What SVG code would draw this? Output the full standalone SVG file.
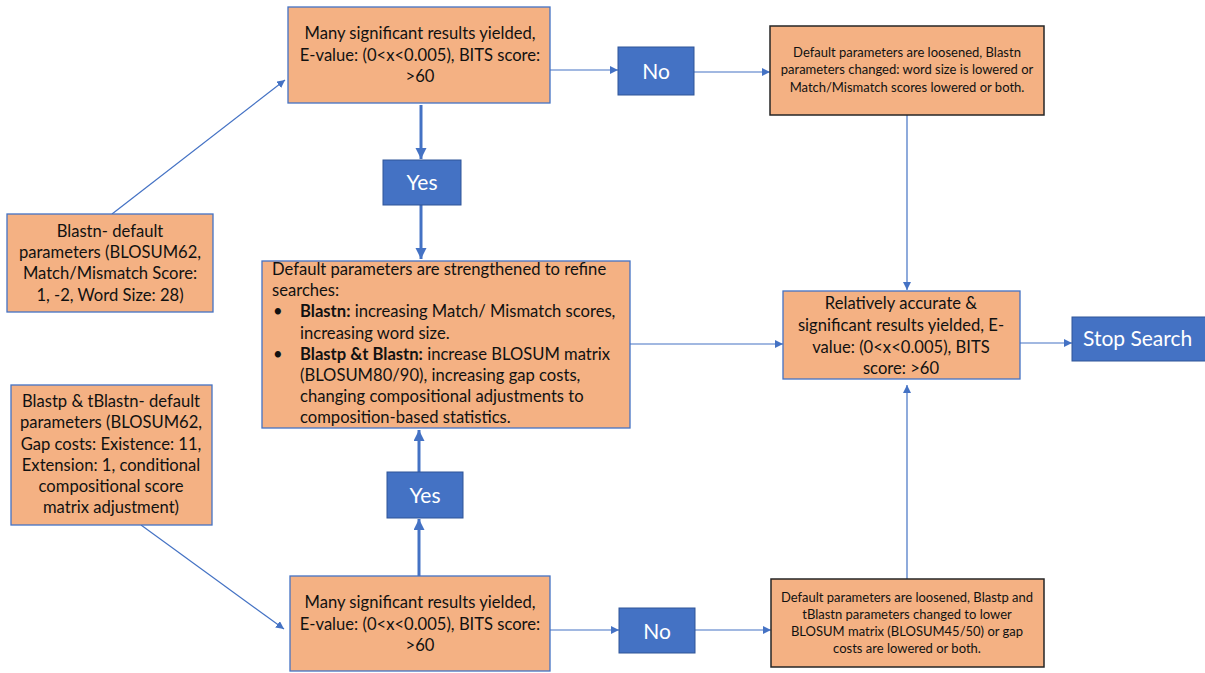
<svg xmlns="http://www.w3.org/2000/svg" width="1205" height="673" viewBox="0 0 1205 673">
<style>
.box{fill:#F4B183;stroke:#4472C4;stroke-width:1.3}
.dbox{fill:#F4B183;stroke:#262626;stroke-width:1.5}
.blue{fill:#4472C4;stroke:#2F5597;stroke-width:1}
.t{font-family:"Lato","Liberation Sans",sans-serif;font-size:16.6px;fill:#111}
.s{font-family:"Lato","Liberation Sans",sans-serif;font-size:13px;fill:#111}
.w{font-family:"Lato","Liberation Sans",sans-serif;font-size:21px;fill:#fff}
.c{text-anchor:middle}
.ln{stroke:#4472C4;stroke-width:1.2;fill:none}
.thick{stroke:#4472C4;stroke-width:3;fill:none}
</style>
<defs>
<marker id="a" markerUnits="userSpaceOnUse" markerWidth="9" markerHeight="9" refX="8" refY="4" orient="auto"><path d="M0,0 L8,4 L0,8 Z" fill="#4472C4"/></marker>
<marker id="b" markerUnits="userSpaceOnUse" markerWidth="12" markerHeight="12" refX="11" refY="5.5" orient="auto"><path d="M0,0 L11,5.5 L0,11 Z" fill="#4472C4"/></marker>
</defs>
<g id="connectors">
<line class="ln" x1="112" y1="214" x2="285" y2="80" marker-end="url(#a)"/>
<line class="ln" x1="550" y1="70" x2="618" y2="70" marker-end="url(#a)"/>
<line class="ln" x1="694" y1="72" x2="770" y2="72" marker-end="url(#a)"/>
<line class="ln" x1="907" y1="115" x2="907" y2="290" marker-end="url(#a)"/>
<line class="thick" x1="421" y1="105" x2="421" y2="159" marker-end="url(#b)"/>
<line class="thick" x1="421" y1="205" x2="421" y2="259" marker-end="url(#b)"/>
<line class="ln" x1="630" y1="344" x2="783" y2="344" marker-end="url(#a)"/>
<line class="ln" x1="1016" y1="343" x2="1072" y2="343" marker-end="url(#a)"/>
<line class="ln" x1="141" y1="525" x2="284" y2="629" marker-end="url(#a)"/>
<line class="ln" x1="550" y1="630" x2="619" y2="630" marker-end="url(#a)"/>
<line class="ln" x1="695" y1="630" x2="771" y2="630" marker-end="url(#a)"/>
<line class="ln" x1="907" y1="579" x2="907" y2="385" marker-end="url(#a)"/>
<line class="thick" x1="419" y1="576" x2="419" y2="519" marker-end="url(#b)"/>
<line class="thick" x1="419" y1="472" x2="419" y2="430" marker-end="url(#b)"/>
</g>
<g id="top">
<rect class="box" x="288" y="7" width="262" height="96"/>
<text class="t c" x="420" y="39">Many significant results yielded,</text>
<text class="t c" x="420" y="61">E-value: (0&lt;x&lt;0.005), BITS score:</text>
<text class="t c" x="420" y="82">&gt;60</text>
</g>
<g id="no-top">
<rect class="blue" x="618" y="47" width="76" height="48"/>
<text class="w c" x="656" y="79">No</text>
</g>
<g id="loosen-n">
<rect class="dbox" x="770" y="26" width="274" height="89"/>
<text class="s c" x="907" y="57">Default parameters are loosened, Blastn</text>
<text class="s c" x="907" y="74">parameters changed: word size is lowered or</text>
<text class="s c" x="907" y="92">Match/Mismatch scores lowered or both.</text>
</g>
<g id="yes-top">
<rect class="blue" x="383" y="160" width="78" height="45"/>
<text class="w c" x="422" y="190">Yes</text>
</g>
<g id="blastn">
<rect class="box" x="7" y="214" width="206" height="98"/>
<text class="t c" x="110" y="237">Blastn- default</text>
<text class="t c" x="110" y="258">parameters (BLOSUM62,</text>
<text class="t c" x="110" y="279">Match/Mismatch Score:</text>
<text class="t c" x="110" y="301">1, -2, Word Size: 28)</text>
</g>
<g id="strengthen">
<rect class="box" x="262" y="261" width="368" height="167"/>
<text class="t" x="272" y="275">Default parameters are strengthened to refine</text>
<text class="t" x="272" y="296">searches:</text>
<text class="t" x="273" y="317">•</text>
<text class="t" x="300" y="317"><tspan font-weight="bold">Blastn:</tspan> increasing Match/ Mismatch scores,</text>
<text class="t" x="300" y="339">increasing word size.</text>
<text class="t" x="273" y="360">•</text>
<text class="t" x="300" y="360"><tspan font-weight="bold">Blastp &amp;t Blastn:</tspan> increase BLOSUM matrix</text>
<text class="t" x="300" y="381">(BLOSUM80/90), increasing gap costs,</text>
<text class="t" x="300" y="402">changing compositional adjustments to</text>
<text class="t" x="300" y="423">composition-based statistics.</text>
</g>
<g id="relatively">
<rect class="box" x="783" y="291" width="237" height="88"/>
<text class="t c" x="901" y="309">Relatively accurate &amp;</text>
<text class="t c" x="901" y="331">significant results yielded, E-</text>
<text class="t c" x="901" y="353">value: (0&lt;x&lt;0.005), BITS</text>
<text class="t c" x="901" y="374">score: &gt;60</text>
</g>
<g id="stop">
<rect class="blue" x="1072" y="317" width="140" height="44"/>
<text class="w" x="1083" y="346">Stop Search</text>
</g>
<g id="blastp">
<rect class="box" x="11" y="385" width="201" height="140"/>
<text class="t c" x="111" y="407">Blastp &amp; tBlastn- default</text>
<text class="t c" x="111" y="428">parameters (BLOSUM62,</text>
<text class="t c" x="111" y="450">Gap costs: Existence: 11,</text>
<text class="t c" x="111" y="471">Extension: 1, conditional</text>
<text class="t c" x="111" y="492">compositional score</text>
<text class="t c" x="111" y="513">matrix adjustment)</text>
</g>
<g id="yes-bottom">
<rect class="blue" x="387" y="472" width="76" height="46"/>
<text class="w c" x="425" y="503">Yes</text>
</g>
<g id="bottom">
<rect class="box" x="290" y="576" width="260" height="95"/>
<text class="t c" x="420" y="608">Many significant results yielded,</text>
<text class="t c" x="420" y="630">E-value: (0&lt;x&lt;0.005), BITS score:</text>
<text class="t c" x="420" y="651">&gt;60</text>
</g>
<g id="no-bottom">
<rect class="blue" x="619" y="608" width="76" height="45"/>
<text class="w c" x="657" y="639">No</text>
</g>
<g id="loosen-p">
<rect class="dbox" x="771" y="579" width="273" height="88"/>
<text class="s c" x="907" y="602">Default parameters are loosened, Blastp and</text>
<text class="s c" x="907" y="619">tBlastn parameters changed to lower</text>
<text class="s c" x="907" y="636">BLOSUM matrix (BLOSUM45/50) or gap</text>
<text class="s c" x="907" y="653">costs are lowered or both.</text>
</g>
</svg>
